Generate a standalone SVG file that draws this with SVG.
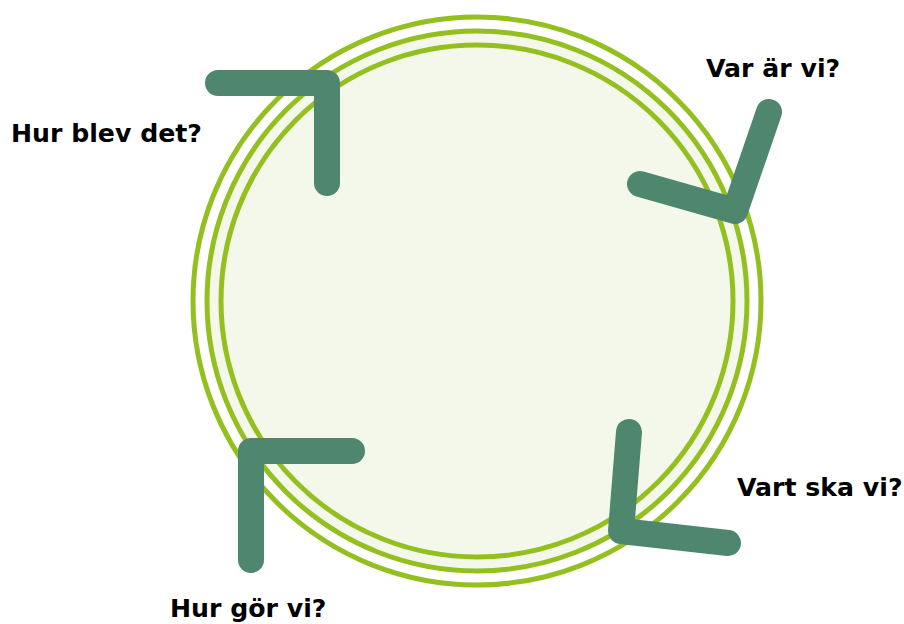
<svg xmlns="http://www.w3.org/2000/svg" width="904" height="624" viewBox="0 0 904 624">
<style>
.ring{fill:none;stroke:#93c01f;stroke-width:5}
.arrow{fill:none;stroke:#4e866e;stroke-width:26;stroke-linecap:round;stroke-linejoin:round}
.lbl{font-family:"DejaVu Sans",sans-serif;font-weight:bold;font-size:25.2px;fill:#000}
</style>
<rect width="904" height="624" fill="#fff"/>
<g id="circle">
<circle cx="477" cy="301" r="284" class="ring"/>
<circle cx="477" cy="301" r="270" class="ring" style="fill:#f4f8eb"/>
<circle cx="477" cy="301" r="256" class="ring"/>
</g>
<g id="connectors">
<polyline class="arrow" points="218,83 327,83 327,183"/>
<polyline class="arrow" points="640,184 735,211 769,112"/>
<polyline class="arrow" points="629,432 621,531 728,543"/>
<polyline class="arrow" points="352,451 251,451 251,560"/>
</g>
<g id="n1"><text class="lbl" x="11" y="142">Hur blev det?</text></g>
<g id="n2"><text class="lbl" x="706" y="77">Var är vi?</text></g>
<g id="n3"><text class="lbl" x="737" y="496">Vart ska vi?</text></g>
<g id="n4"><text class="lbl" x="170" y="617">Hur gör vi?</text></g>
</svg>
